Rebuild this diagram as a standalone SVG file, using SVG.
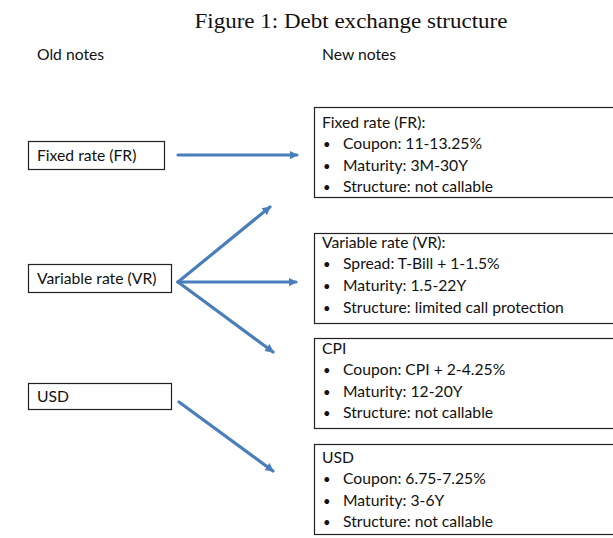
<svg xmlns="http://www.w3.org/2000/svg" width="613" height="538" viewBox="0 0 613 538">
<style>
.t{font-family:"Liberation Serif","DejaVu Serif",serif;font-size:20px;fill:#111}
.h{font-family:Lato,"Open Sans",sans-serif;font-size:15.7px;fill:#111}
.b{font-family:Lato,"Open Sans",sans-serif;font-size:13px;fill:#111}
.box{fill:#fff;stroke:#222;stroke-width:1.2}
.arr{stroke:#4A7EBB;stroke-width:3.2;fill:none;stroke-linecap:round;marker-end:url(#ah)}
</style>
<defs>
<marker id="ah" markerUnits="userSpaceOnUse" markerWidth="10" markerHeight="10" refX="6" refY="4" orient="auto" viewBox="0 0 8 8">
<path d="M0,0.5 L7,4 L0,7.5 Z" fill="#4A7EBB"/>
</marker>
</defs>
<rect width="613" height="538" fill="#fff"/>
<text class="t" x="351" y="28" text-anchor="middle" textLength="313" lengthAdjust="spacingAndGlyphs">Figure 1: Debt exchange structure</text>
<text class="h" x="37" y="60">Old notes</text>
<text class="h" x="322" y="60">New notes</text>

<g id="old-fr"><rect class="box" x="28.5" y="141.5" width="136" height="28"/><text class="h" x="37" y="161">Fixed rate (FR)</text></g>
<g id="old-vr"><rect class="box" x="28.5" y="264.5" width="143" height="28"/><text class="h" x="37" y="284">Variable rate (VR)</text></g>
<g id="old-usd"><rect class="box" x="28.5" y="383.5" width="143" height="26"/><text class="h" x="37" y="402">USD</text></g>

<g id="new-fr"><rect class="box" x="314.5" y="107.5" width="300" height="90"/>
<text class="h" x="322" y="128">Fixed rate (FR):</text>
<text class="b" x="323" y="149">•</text><text class="h" x="343" y="149">Coupon: 11-13.25%</text>
<text class="b" x="323" y="171">•</text><text class="h" x="343" y="171">Maturity: 3M-30Y</text>
<text class="b" x="323" y="192">•</text><text class="h" x="343" y="192">Structure: not callable</text></g>

<g id="new-vr"><rect class="box" x="314.5" y="233.5" width="300" height="90"/>
<text class="h" x="322" y="248">Variable rate (VR):</text>
<text class="b" x="323" y="269">•</text><text class="h" x="343" y="269">Spread: T-Bill + 1-1.5%</text>
<text class="b" x="323" y="291">•</text><text class="h" x="343" y="291">Maturity: 1.5-22Y</text>
<text class="b" x="323" y="313">•</text><text class="h" x="343" y="313">Structure: limited call protection</text></g>

<g id="new-cpi"><rect class="box" x="314.5" y="338.5" width="300" height="90"/>
<text class="h" x="322" y="354">CPI</text>
<text class="b" x="323" y="375">•</text><text class="h" x="343" y="375">Coupon: CPI + 2-4.25%</text>
<text class="b" x="323" y="397">•</text><text class="h" x="343" y="397">Maturity: 12-20Y</text>
<text class="b" x="323" y="418">•</text><text class="h" x="343" y="418">Structure: not callable</text></g>

<g id="new-usd"><rect class="box" x="314.5" y="444.5" width="300" height="90"/>
<text class="h" x="322" y="463">USD</text>
<text class="b" x="323" y="484">•</text><text class="h" x="343" y="484">Coupon: 6.75-7.25%</text>
<text class="b" x="323" y="506">•</text><text class="h" x="343" y="506">Maturity: 3-6Y</text>
<text class="b" x="323" y="527">•</text><text class="h" x="343" y="527">Structure: not callable</text></g>

<g id="connectors">
<line class="arr" x1="178" y1="155" x2="297" y2="155"/>
<line class="arr" x1="178" y1="282" x2="270" y2="207"/>
<line class="arr" x1="178" y1="282" x2="296" y2="282"/>
<line class="arr" x1="178" y1="282" x2="273" y2="352"/>
<line class="arr" x1="179" y1="402" x2="273" y2="471"/>
</g>
</svg>
